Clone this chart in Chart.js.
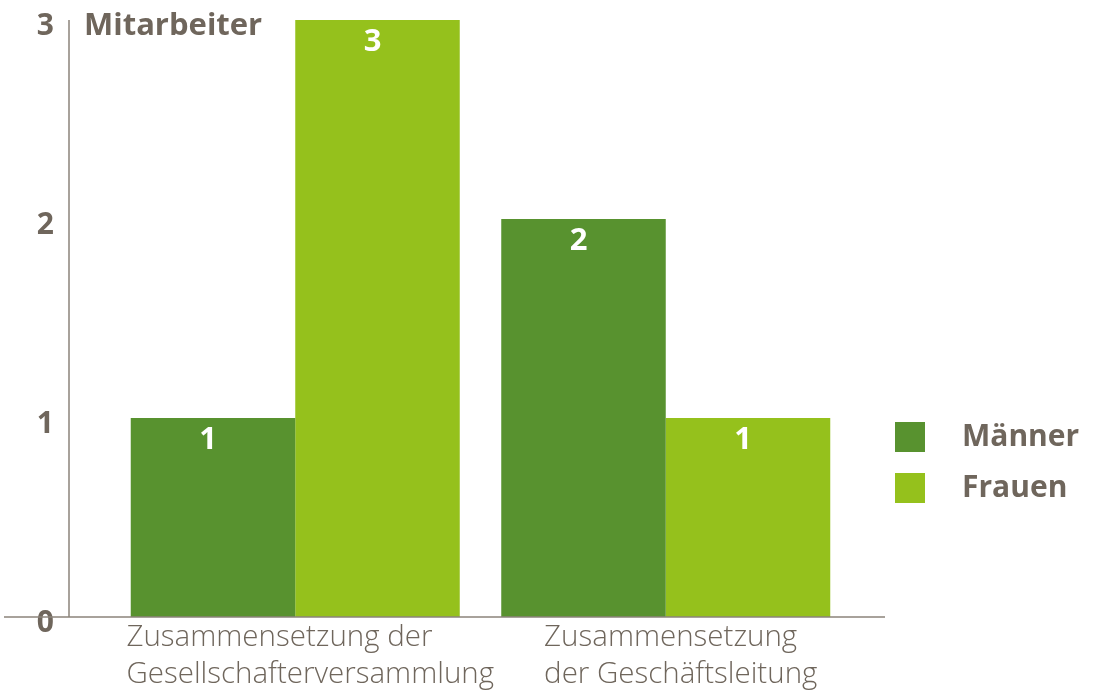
<!DOCTYPE html>
<html>
<head>
<meta charset="utf-8">
<script src="https://cdn.jsdelivr.net/npm/chart.js@4.4.0/dist/chart.umd.min.js"></script>
<style>
  html, body { margin: 0; padding: 0; background: #fff; }
  #wrap { width: 1110px; height: 700px; }
</style>
</head>
<body>
<div id="wrap"><canvas id="staffChart"></canvas></div>
<script>
// data
var categories = [
  ['Zusammensetzung der', 'Gesellschafterversammlung'],
  ['Zusammensetzung', 'der Geschäftsleitung']
];
var maenner = [1, 2];
var frauen = [3, 1];
var yTicks = [0, 1, 2, 3];
var yTitle = 'Mitarbeiter';

var textGrey = '#6f665c';
var darkGreen = '#58922f';
var lightGreen = '#95c11c';
var fontFam = '"Open Sans", "DejaVu Sans", sans-serif';

// axis lines, titles, value labels, category labels and legend
var decorPlugin = {
  id: 'decor',
  afterDraw: function (chart) {
    var ctx = chart.ctx;
    var y = chart.scales.y;
    var x = chart.scales.x;
    var zeroY = y.getPixelForValue(0);

    ctx.save();
    ctx.strokeStyle = '#8c847b';
    ctx.lineWidth = 1.5;
    ctx.beginPath();
    ctx.moveTo(69, y.getPixelForValue(3));
    ctx.lineTo(69, zeroY);
    ctx.moveTo(4, zeroY);
    ctx.lineTo(885, zeroY);
    ctx.stroke();

    // title beside the axis
    ctx.fillStyle = textGrey;
    ctx.font = 'bold 31px ' + fontFam;
    ctx.textAlign = 'left';
    ctx.textBaseline = 'middle';
    ctx.fillText(yTitle, 84, y.getPixelForValue(3) + 6);

    // values inside the bars
    ctx.fillStyle = '#ffffff';
    ctx.font = 'bold 31px ' + fontFam;
    ctx.textAlign = 'center';
    chart.data.datasets.forEach(function (ds, di) {
      chart.getDatasetMeta(di).data.forEach(function (bar, i) {
        ctx.fillText(String(ds.data[i]), bar.x - 5, bar.y + 22);
      });
    });

    // category labels, lines left aligned, block centred on category
    ctx.fillStyle = textGrey;
    ctx.font = '300 29.5px ' + fontFam;
    ctx.textAlign = 'left';
    categories.forEach(function (lines, i) {
      var w = 0;
      lines.forEach(function (l) { w = Math.max(w, ctx.measureText(l).width); });
      var left = x.getPixelForValue(i) - w / 2 + 15;
      lines.forEach(function (l, k) {
        ctx.fillText(l, left, zeroY + 21 + k * 37);
      });
    });

    // legend
    ctx.font = 'bold 30px ' + fontFam;
    chart.data.datasets.forEach(function (ds, di) {
      var cy = 437 + di * 51;
      ctx.fillStyle = ds.backgroundColor;
      ctx.fillRect(895, cy - 15, 30, 30);
      ctx.fillStyle = textGrey;
      ctx.fillText(ds.label, 962, cy);
    });
    ctx.restore();
  }
};

var ctx = document.getElementById('staffChart').getContext('2d');
var chart = new Chart(ctx, {
  type: 'bar',
  data: {
    labels: categories,
    datasets: [{
      label: 'Männer',
      data: maenner,
      backgroundColor: darkGreen,
      categoryPercentage: 0.888,
      barPercentage: 1
    }, {
      label: 'Frauen',
      data: frauen,
      backgroundColor: lightGreen,
      categoryPercentage: 0.888,
      barPercentage: 1
    }]
  },
  options: {
    responsive: true,
    maintainAspectRatio: false,
    animation: false,
    layout: {
      padding: { left: 0, right: 259, top: 20, bottom: 83 }
    },
    plugins: {
      legend: { display: false },
      tooltip: { enabled: false }
    },
    scales: {
      x: {
        display: false
      },
      y: {
        min: 0,
        max: 3,
        afterFit: function (s) {
          s.width = 110;
          s.paddingTop = 0;
          s.paddingBottom = 0;
        },
        afterBuildTicks: function (s) {
          s.ticks = yTicks.map(function (v) { return { value: v }; });
        },
        grid: { display: false },
        border: { display: false },
        ticks: {
          padding: 48,
          labelOffset: 6,
          color: textGrey,
          font: { family: fontFam, size: 30, weight: 'bold' }
        }
      }
    }
  },
  plugins: [decorPlugin]
});
</script>
</body>
</html>
